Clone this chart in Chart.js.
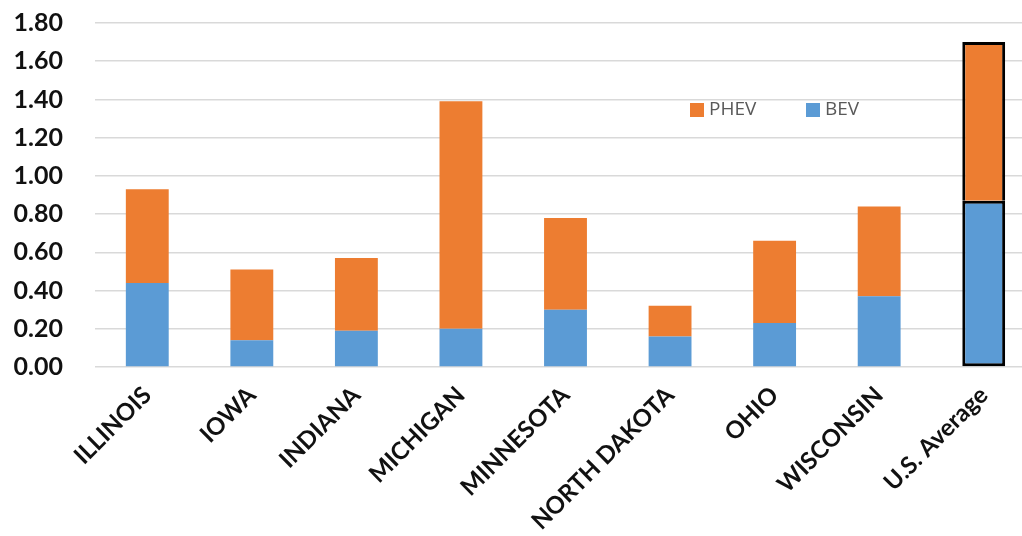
<!DOCTYPE html>
<html lang="en">
<head>
<meta charset="UTF-8">
<title>PHEV and BEV by state</title>
<script src="https://cdn.jsdelivr.net/npm/chart.js@4.4.0/dist/chart.umd.min.js"></script>
<style>
  body { margin: 0; background: #fff; overflow: hidden; }
  #chart { display: block; }
</style>
</head>
<body>
<canvas id="chart" width="1036" height="536"></canvas>
<script>
// ---- data ----
const categories = ['ILLINOIS', 'IOWA', 'INDIANA', 'MICHIGAN', 'MINNESOTA', 'NORTH DAKOTA', 'OHIO', 'WISCONSIN', 'U.S. Average'];
const bevValues  = [0.44, 0.14, 0.19, 0.20, 0.30, 0.16, 0.23, 0.37, 0.87];
const phevValues = [0.49, 0.37, 0.38, 1.19, 0.48, 0.16, 0.43, 0.47, 0.83];
const highlightIndex = 8;  // U.S. Average gets the black outline

const ORANGE = '#ED7D31';
const BLUE = '#5B9BD5';

// outline only for the average bar; top segment skips its bottom edge
const outlineBev = (ctx) => ctx.dataIndex === highlightIndex ? 3 : 0;
const outlinePhev = (ctx) => ctx.dataIndex === highlightIndex
  ? { top: 3, left: 3, right: 3, bottom: 0 } : 0;

// legend sits inside the plot, PHEV first
const insideLegend = {
  id: 'insideLegend',
  afterDraw(chart) {
    const ctx = chart.ctx;
    const items = [chart.data.datasets[1], chart.data.datasets[0]];
    const xs = [690, 806];
    ctx.save();
    ctx.font = '19px "Open Sans", sans-serif';
    ctx.textBaseline = 'middle';
    items.forEach((ds, i) => {
      ctx.fillStyle = ds.backgroundColor;
      ctx.fillRect(xs[i], 103, 14, 14);
      ctx.fillStyle = '#595959';
      ctx.fillText(ds.label, xs[i] + 19, 110);
    });
    ctx.restore();
  }
};

new Chart(document.getElementById('chart'), {
  type: 'bar',
  data: {
    labels: categories,
    datasets: [
      { label: 'BEV', data: bevValues, backgroundColor: BLUE,
        borderColor: '#000', borderWidth: outlineBev, borderSkipped: false },
      { label: 'PHEV', data: phevValues, backgroundColor: ORANGE,
        borderColor: '#000', borderWidth: outlinePhev, borderSkipped: false }
    ]
  },
  options: {
    responsive: false,
    animation: false,
    layout: { padding: { top: 23, right: 0, left: 0, bottom: 0 } },
    datasets: { bar: { categoryPercentage: 1, barPercentage: 0.41 } },
    plugins: { legend: { display: false }, tooltip: { enabled: false } },
    scales: {
      x: {
        stacked: true,
        grid: { display: false },
        border: { display: false },
        ticks: {
          autoSkip: false, minRotation: 45, maxRotation: 45, padding: 6,
          color: '#111',
          font: { family: 'Lato', size: 24, weight: 'bold' }
        },
        afterFit: (s) => { s.height = 169; }
      },
      y: {
        stacked: true,
        min: 0, max: 1.8,
        grid: { color: '#d9d9d9', lineWidth: 1.5, drawTicks: false },
        border: { display: false },
        ticks: {
          stepSize: 0.2, padding: 32, color: '#111',
          font: { family: 'Lato', size: 25, weight: 'bold' },
          callback: (v) => Number(v).toFixed(2)
        },
        // tick padding would otherwise push the plot top down
        afterFit: (s) => { s.width = 95; s.paddingTop = 0; s.paddingBottom = 0; }
      }
    }
  },
  plugins: [insideLegend]
});
</script>
</body>
</html>
